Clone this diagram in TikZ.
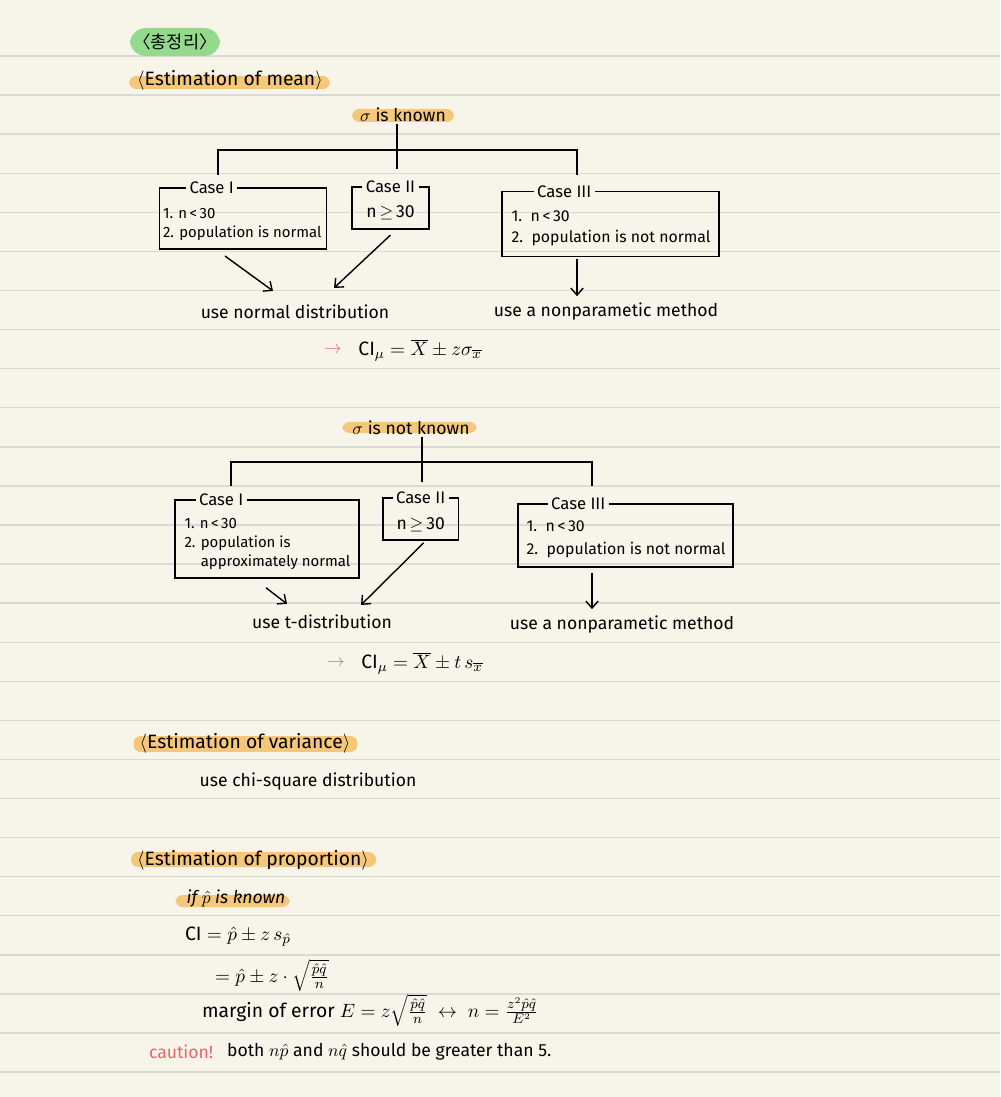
\documentclass[tikz,border=0pt]{standalone}
\usepackage{fontspec}
\setmainfont{Fira Sans}
\newfontfamily\kofont{Noto Sans CJK KR}
\usepackage{xcolor}
\usepackage{tikz}
\usetikzlibrary{positioning, arrows.meta, calc, backgrounds}
\definecolor{papercolor}{RGB}{247, 245, 233}
\definecolor{rulecolor}{RGB}{218, 218, 213}
\definecolor{hlorange}{RGB}{245, 199, 122}
\definecolor{hlgreen}{RGB}{147, 218, 140}
\definecolor{cautioncolor}{RGB}{232, 102, 106}

\begin{document}
\begin{tikzpicture}[
			x=0.02cm, y=-0.02cm,
			hand/.style={font=\fontsize{10}{12}\selectfont, inner sep=1pt},
			heading/.style={font=\fontsize{11}{13}\selectfont, inner sep=1pt},
			formula/.style={font=\fontsize{11}{13}\selectfont, inner sep=1pt},
			boxtext/.style={font=\fontsize{8.5}{11}\selectfont, align=left, inner sep=0pt, anchor=west},
			casebox/.style={rectangle, draw, line width=0.9pt},
			casetitle/.style={fill=papercolor, inner xsep=2pt, inner ysep=0pt, font=\fontsize{9.5}{11}\selectfont},
			tree/.style={line width=0.9pt},
			arr/.style={line width=0.8pt, -{Straight Barb[length=4pt, width=7pt]}},
			ruleline/.style={rulecolor, line width=0.8pt}
			]
			
			\useasboundingbox (0,0) rectangle (1000,1097);
			
			% paper
			\begin{scope}[on background layer]
				\fill[papercolor] (0,0) rectangle (1000,1097);
				\foreach \k in {0,...,26}
				\draw[ruleline] (0,{56+39.08*\k}) -- (1000,{56+39.08*\k});
			\end{scope}
			
			% headings
			\node[fill=hlgreen, rounded corners=9pt, minimum width=1.8cm, minimum height=0.56cm, inner sep=0pt,
			font=\kofont\fontsize{10}{12}\selectfont] (summary) at (175,42) {〈총정리〉};
			
			\node[heading] (meanhd) at (230,80) {$\langle$Estimation of mean$\rangle$};
			\node[hand] (known) at (403,115) {$\sigma$ is known};
			
			% sigma known: cases
			\node[casebox, minimum width=3.34cm, minimum height=1.23cm] (k1) at (243,218.5) {};
			\node[casebox, minimum width=1.55cm, minimum height=0.85cm] (k2) at (390.5,208) {};
			\node[casebox, minimum width=4.34cm, minimum height=1.30cm] (k3) at (610.5,224.2) {};
			
			\node[casetitle] (k1t) at ($(k1.north west)+(53,1)$) {Case I};
			\node[casetitle] (k2t) at ($(k2.north)+(0,1)$) {Case II};
			\node[casetitle] (k3t) at ($(k3.north west)+(63,1)$) {Case III};
			
			\node[boxtext] (k1x) at ($(k1.west)+(4,6)$) {1. n\,<\,30\\2. population is normal};
			\node[boxtext, anchor=center, font=\fontsize{10}{12}\selectfont] (k2x) at ($(k2.center)+(0,5)$) {n\,$\geq$\,30};
			\node[boxtext, font=\fontsize{9}{12}\selectfont] (k3x) at ($(k3.west)+(10,4)$) {1.\ \ n\,<\,30\\2.\ \ population is not normal};
			
			\node[hand] (normal) at (295,312) {use normal distribution};
			\node[hand] (nonpar) at (606,312) {use a nonparametic method};
			
			\coordinate (t1) at (397,150);
			\coordinate (t1L) at (218,175);
			\coordinate (t1R) at (577,175);
			\draw[tree] (t1 |- known.south) -- ($(t1 |- k2.north)+(0,-17)$);
			\draw[tree] (t1L) |- (t1) -| (t1R);
			
			\draw[arr] ($(k1.south)+(-18,6)$) -- ($(normal.north)+(-22,-12)$);
			\draw[arr] ($(k2.south)+(0,5)$) -- ($(normal.north)+(39,-15)$);
			\draw[arr] ($(t1R |- k3.south)+(0,2)$) -- ($(t1R |- nonpar.north)+(0,-5)$);
			
			\node[hand, text=cautioncolor] (ci1a) at (333,350) {$\rightarrow$};
			\node[formula] (ci1) at (420,350) {$\mathrm{CI}_\mu = \overline{X} \pm z\sigma_{\overline{x}}$};
			
			% sigma not known
			\node[hand] (unknown) at (411,428) {$\sigma$ is not known};
			
			\node[casebox, minimum width=3.68cm, minimum height=1.56cm] (m1) at (267,539) {};
			\node[casebox, minimum width=1.51cm, minimum height=0.84cm] (m2) at (420.7,519) {};
			\node[casebox, minimum width=4.30cm, minimum height=1.26cm] (m3) at (625.5,535.5) {};
			
			\node[casetitle] (m1t) at ($(m1.north west)+(47,1)$) {Case I};
			\node[casetitle] (m2t) at ($(m2.north)+(0,1)$) {Case II};
			\node[casetitle] (m3t) at ($(m3.north west)+(61,1)$) {Case III};
			
			\node[boxtext] (m1x) at ($(m1.west)+(10,5)$) {1. n\,<\,30\\2. population is\\\phantom{2. }approximately normal};
			\node[boxtext, anchor=center, font=\fontsize{10}{12}\selectfont] (m2x) at ($(m2.center)+(0,6)$) {n\,$\geq$\,30};
			\node[boxtext, font=\fontsize{9}{13}\selectfont] (m3x) at ($(m3.west)+(9,4)$) {1.\ \ n\,<\,30\\2.\ \ population is not normal};
			
			\node[hand] (tdist) at (322,622) {use t-distribution};
			\node[hand] (nonpar2) at (622,625) {use a nonparametic method};
			
			\coordinate (t2) at (422,462);
			\coordinate (t2L) at (231,486);
			\coordinate (t2R) at (592,486);
			\draw[tree] (t2 |- unknown.south) -- ($(t2 |- m2.north)+(0,-15)$);
			\draw[tree] (t2L) |- (t2) -| (t2R);
			
			\draw[arr] ($(m1.south)+(-1,9)$) -- ($(tdist.north)+(-35,-9)$);
			\draw[arr] ($(m2.south)+(3,2)$) -- ($(tdist.north)+(39,-8)$);
			\draw[arr] ($(t2R |- m3.south)+(0,5)$) -- ($(t2R |- nonpar2.north)+(0,-5)$);
			
			\node[hand, text=cautioncolor] (ci2a) at (336,663) {$\rightarrow$};
			\node[formula] (ci2) at (422,663) {$\mathrm{CI}_\mu = \overline{X} \pm t\,s_{\overline{x}}$};
			
			% variance
			\node[heading] (varhd) at (245,743) {$\langle$Estimation of variance$\rangle$};
			\node[hand] (chisq) at (308,782) {use chi-square distribution};
			
			% proportion
			\node[heading] (prophd) at (253,860) {$\langle$Estimation of proportion$\rangle$};
			\node[hand, font=\itshape\fontsize{10}{12}\selectfont] (ifknown) at (236,899) {if $\hat{p}$ is known};
			\node[formula, anchor=west] (ciprop) at (183,937) {$\mathrm{CI} = \hat{p} \pm z\,s_{\hat{p}}$};
			\node[formula, anchor=west] (eqline) at (213,975) {$= \hat{p} \pm z\cdot\sqrt{\frac{\hat{p}\hat{q}}{n}}$};
			\node[formula, anchor=west] (margin) at (200,1010) {margin of error $E = z\sqrt{\frac{\hat{p}\hat{q}}{n}} \;\leftrightarrow\; n = \frac{z^2\hat{p}\hat{q}}{E^2}$};
			\node[hand, anchor=west, text=cautioncolor] (caution) at (147,1052) {caution!};
			\node[hand, anchor=west] (cautiontx) at (225,1052) {both $n\hat{p}$ and $n\hat{q}$ should be greater than 5.};
			
			% highlights
			\begin{scope}[on background layer]
				\fill[hlorange, rounded corners=4pt] ($(meanhd.west)+(-6,-4)$) rectangle ($(meanhd.east)+(5,9)$);
				\fill[hlorange, rounded corners=4pt] ($(known.west)+(-6,-6)$) rectangle ($(known.east)+(6,7)$);
				\fill[hlorange, rounded corners=4pt] ($(unknown.west)+(-8,-6)$) rectangle ($(unknown.east)+(5,5)$);
				\fill[hlorange, rounded corners=4pt] ($(varhd.west)+(-4,-7)$) rectangle ($(varhd.east)+(5,9)$);
				\fill[hlorange, rounded corners=4pt] ($(prophd.west)+(-4,-8)$) rectangle ($(prophd.east)+(5,7)$);
				\fill[hlorange, rounded corners=4pt] ($(ifknown.west)+(-9,-4)$) rectangle ($(ifknown.east)+(2,8)$);
			\end{scope}
			
		\end{tikzpicture}
\end{document}
